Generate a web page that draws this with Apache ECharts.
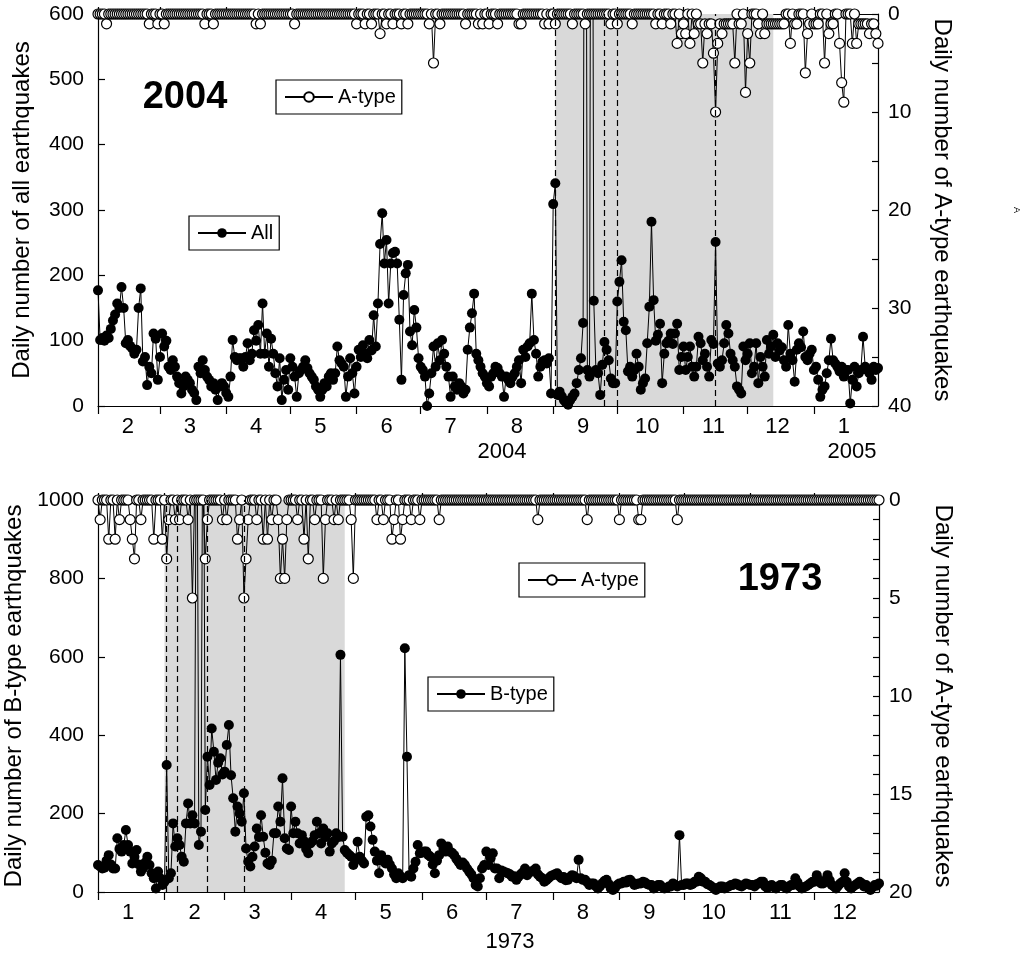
<!DOCTYPE html>
<html>
<head>
<meta charset="utf-8">
<script src="https://cdn.jsdelivr.net/npm/echarts@6/dist/echarts.min.js"></script>
<style>
html,body{margin:0;padding:0;background:#fff;}
#chart{width:1024px;height:961px;}
</style>
</head>
<body>
<div id="chart"></div>
<script>
// ---------- DATA ----------
// Top panel: daily counts starting 2004-02-01
const topStart = '2004-02-01';
const topAll = [
177,101,104,100,108,104,118,131,140,157,
150,182,150,96,101,92,88,80,86,150,
180,68,75,32,60,50,111,103,40,75,
111,91,100,60,55,70,60,45,35,19,
30,45,40,35,25,20,9,60,50,70,
55,45,40,30,35,25,9,30,35,30,
20,14,45,101,75,70,73,73,60,75,
96,70,80,116,100,124,80,157,80,111,
60,103,80,50,30,73,9,40,55,25,
73,60,45,14,50,55,60,70,58,50,
45,40,30,25,14,25,35,30,45,50,
40,50,91,70,65,60,14,45,73,50,
19,60,86,75,93,80,73,101,85,139,
91,157,248,295,218,254,157,218,234,236,
218,132,40,170,203,216,114,93,147,120,
73,60,55,45,0,19,50,91,60,96,
70,101,80,60,45,14,45,30,25,35,
30,19,25,86,120,142,172,80,70,60,
50,45,35,30,45,50,60,58,50,45,
14,45,40,35,45,50,60,70,35,86,
75,91,96,172,101,80,45,60,68,70,
65,73,19,309,341,17,22,15,9,5,
2,9,14,19,35,55,73,127,1500,55,
45,1500,161,55,50,17,63,98,86,70,
42,35,35,160,190,223,129,116,53,60,
45,55,80,60,25,35,42,96,152,282,
162,100,109,126,35,80,96,100,111,95,
111,126,55,75,91,55,75,91,60,45,
60,106,96,70,80,60,45,101,95,251,
65,60,70,96,124,111,80,70,60,30,
25,19,91,70,80,96,50,60,96,35,
75,60,45,101,80,91,109,75,96,85,
90,70,60,124,80,70,37,86,96,90,
114,75,70,80,86,55,60,40,14,25,
30,50,70,103,70,65,60,53,60,45,
55,55,4,40,60,30,50,55,106,60,
55,50,40,60,55,58
];
const topAType = [
0,0,0,0,1,0,0,0,0,0,
0,0,0,0,0,0,0,0,0,0,
0,0,0,0,1,0,0,0,1,0,
0,1,0,0,0,0,0,0,0,0,
0,0,0,0,0,0,0,0,0,0,
1,0,0,0,1,0,0,0,0,0,
0,0,0,0,0,0,0,0,0,0,
0,0,0,0,1,0,1,0,0,0,
0,0,0,0,0,0,0,0,0,0,
0,0,1,0,0,0,0,0,0,0,
0,0,0,0,0,0,0,0,0,0,
0,0,0,0,0,0,0,0,0,0,
0,1,0,0,0,1,0,0,1,0,
0,0,2,0,0,1,0,0,1,0,
0,0,1,0,0,1,0,0,0,0,
0,0,0,0,0,1,0,5,0,0,
1,0,0,0,0,0,0,0,0,0,
0,0,1,0,0,0,0,0,1,0,
1,0,0,1,0,0,0,1,0,0,
0,0,0,0,0,0,0,1,1,0,
0,0,0,0,0,0,0,0,0,1,
0,1,0,0,1,0,0,0,0,0,
0,0,1,0,0,0,0,0,1,0,
0,0,0,0,0,0,0,0,0,0,
1,0,0,1,0,0,0,0,0,0,
1,0,0,0,0,0,0,0,0,0,
0,1,0,0,1,0,0,0,1,0,
0,3,0,2,1,2,0,3,0,2,
0,1,1,5,1,2,1,1,4,10,
3,1,2,1,1,1,1,1,5,0,
1,1,0,8,2,5,0,0,0,1,
2,0,2,1,1,1,1,1,1,1,
1,1,0,0,3,0,1,1,0,0,
0,6,2,1,0,1,1,1,0,0,
5,0,2,1,1,0,0,3,7,9,
0,0,0,3,0,3,1,1,1,1,
1,2,1,1,2,3
];
const topShade = ['2004-09-02', '2004-12-13'];
const topDashed = ['2004-09-02', '2004-09-25', '2004-10-01', '2004-11-16'];

// Bottom panel: daily counts starting 1973-01-01
const botStart = '1973-01-01';
const botBType = [
69,65,60,62,80,94,70,60,60,137,
110,103,120,158,120,103,73,90,107,70,
52,60,75,90,69,48,35,9,52,35,
18,26,324,35,48,175,116,137,120,90,
77,175,226,175,196,175,1500,120,154,1500,
209,345,273,417,358,286,330,341,300,307,
375,426,298,239,154,218,200,179,252,111,
77,65,90,116,162,140,196,141,100,73,
69,80,150,150,218,179,290,137,111,107,
218,150,179,150,124,145,130,110,99,124,
130,145,179,150,124,162,140,150,103,124,
130,150,140,605,141,107,100,95,90,69,
85,128,90,80,73,192,196,167,133,103,
80,48,94,80,73,82,70,60,45,35,
48,40,35,622,345,43,39,60,77,120,
99,100,103,103,94,90,70,48,80,94,
124,110,103,116,103,100,94,85,77,69,
75,69,60,52,45,35,18,14,35,60,
69,103,69,86,99,60,60,35,55,52,
50,48,45,39,40,31,39,45,50,60,
43,50,52,55,60,45,39,35,26,30,
35,40,43,45,48,40,35,38,30,31,
38,43,40,35,82,35,31,31,25,18,
22,22,15,9,15,22,28,31,20,9,
5,10,18,22,22,26,24,30,31,25,
18,20,22,22,26,24,20,18,18,9,
12,18,18,12,9,10,14,14,22,18,
14,145,18,18,22,22,18,20,26,26,
39,35,26,26,20,18,14,10,5,10,
14,14,9,12,14,18,18,22,20,16,
14,18,22,20,18,18,14,20,22,26,
26,14,10,16,18,12,9,14,18,18,
12,9,14,18,18,35,25,14,9,12,
14,18,22,26,26,43,30,22,22,30,
43,30,18,14,9,16,22,26,48,26,
14,9,14,18,22,26,22,14,18,10,
5,12,18,16,22
];
const botAType = [
0,1,0,0,0,2,0,0,2,0,
1,0,0,0,0,1,2,3,0,0,
1,0,0,0,0,0,2,0,0,0,
2,0,3,1,0,0,1,0,1,0,
0,0,1,0,5,0,0,0,0,0,
3,1,0,0,0,0,0,0,1,0,
1,0,0,0,0,2,1,0,5,3,
1,0,0,0,1,0,0,2,0,2,
0,1,0,0,1,4,2,4,1,0,
0,0,0,1,0,0,2,0,3,0,
0,1,0,0,0,4,1,0,0,0,
1,0,1,0,0,0,0,0,1,4,
0,0,0,0,0,0,0,0,0,0,
1,0,0,1,0,0,0,2,1,0,
0,2,1,0,0,0,1,0,0,0,
1,0,0,0,0,0,0,0,0,1,
0,0,0,0,0,0,0,0,0,0,
0,0,0,0,0,0,0,0,0,0,
0,0,0,0,0,0,0,0,0,0,
0,0,0,0,0,0,0,0,0,0,
0,0,0,0,0,1,0,0,0,0,
0,0,0,0,0,0,0,0,0,0,
0,0,0,0,0,0,0,0,1,0,
0,0,0,0,0,0,0,0,0,0,
0,0,0,1,0,0,0,0,0,0,
0,0,1,1,0,0,0,0,0,0,
0,0,0,0,0,0,0,0,0,0,
1,0,0,0,0,0,0,0,0,0,
0,0,0,0,0,0,0,0,0,0,
0,0,0,0,0,0,0,0,0,0,
0,0,0,0,0,0,0,0,0,0,
0,0,0,0,0,0,0,0,0,0,
0,0,0,0,0,0,0,0,0,0,
0,0,0,0,0,0,0,0,0,0,
0,0,0,0,0,0,0,0,0,0,
0,0,0,0,0,0,0,0,0,0,
0,0,0,0,0
];
const botShade = ['1973-02-01', '1973-04-26'];
const botDashed = ['1973-02-02', '1973-02-07', '1973-02-21', '1973-03-10'];

const topYLeftTicks = [0, 600, 100];
const topYRightTicks = [0, 40, 5];
const botYLeftTicks = [0, 1000, 200];
const botYRightTicks = [0, 20, 1];

// ---------- BUILD ----------
function makeDays(start, n) {
  const out = [];
  const d0 = new Date(start + 'T00:00:00Z');
  for (let i = 0; i < n; i++) {
    const d = new Date(d0.getTime() + i * 86400000);
    out.push(d.toISOString().slice(0, 10));
  }
  return out;
}
const topDays = makeDays(topStart, topAll.length);
const botDays = makeDays(botStart, botBType.length);

const FONT = '"Liberation Sans", Arial, Helvetica, sans-serif';
const black = '#000';

function xAxisPair(grid, days) {
  const tickFn = (i, v) => v.slice(8) === '01';
  const labFn = (i, v) => v.slice(8) === '15';
  return [
    {
      gridIndex: grid, type: 'category', data: days, boundaryGap: false, position: 'bottom',
      axisLine: { show: true, onZero: false, lineStyle: { color: black, width: 1.2 } },
      axisTick: { show: true, interval: tickFn, inside: false, length: 8, lineStyle: { color: black, width: 1.2 } },
      axisLabel: { show: true, interval: labFn, formatter: v => String(parseInt(v.slice(5, 7), 10)),
        color: black, fontSize: 22, fontFamily: FONT, margin: 10 },
      splitLine: { show: false }
    },
    {
      gridIndex: grid, type: 'category', data: days, boundaryGap: false, position: 'top',
      axisLine: { show: true, onZero: false, lineStyle: { color: black, width: 1.2 } },
      axisTick: { show: true, interval: tickFn, inside: false, length: 7, lineStyle: { color: black, width: 1.2 } },
      axisLabel: { show: false },
      splitLine: { show: false }
    }
  ];
}

function yAxisLeft(grid, t, name) {
  return {
    gridIndex: grid, type: 'value', position: 'left', min: t[0], max: t[1], interval: t[2],
    axisLine: { show: true, onZero: false, lineStyle: { color: black, width: 1.2 } },
    axisTick: { show: true, inside: true, length: 7, lineStyle: { color: black, width: 1.2 } },
    axisLabel: { color: black, fontSize: 21, fontFamily: FONT, margin: 14, formatter: v => String(v) },
    splitLine: { show: false },
    name: name, nameLocation: 'middle', nameRotate: 90, nameGap: 64,
    nameTextStyle: { color: black, fontSize: 24, fontFamily: FONT }
  };
}
function yAxisRight(grid, t, labStep, name) {
  return {
    gridIndex: grid, type: 'value', position: 'right', min: t[0], max: t[1], interval: t[2], inverse: true,
    axisLine: { show: true, onZero: false, lineStyle: { color: black, width: 1.2 } },
    axisTick: { show: true, inside: true, length: 6, lineStyle: { color: black, width: 1.2 } },
    axisLabel: { color: black, fontSize: 21, fontFamily: FONT, margin: 10,
      formatter: v => (v % labStep === 0 ? String(v) : '') },
    splitLine: { show: false },
    name: name, nameLocation: 'middle', nameRotate: -90, nameGap: 52,
    nameTextStyle: { color: black, fontSize: 24, fontFamily: FONT }
  };
}

function shadeSeries(xi, yi, data, shade) {
  return {
    type: 'line', xAxisIndex: xi, yAxisIndex: yi, data: data, showSymbol: false, silent: true,
    lineStyle: { opacity: 0 }, z: 1, animation: false,
    markArea: { silent: true, itemStyle: { color: '#d9d9d9', opacity: 1 },
      data: [[{ xAxis: shade[0] }, { xAxis: shade[1] }]] }
  };
}
function dashSeries(xi, yi, data, lines) {
  return {
    type: 'line', xAxisIndex: xi, yAxisIndex: yi, data: data, showSymbol: false, silent: true,
    lineStyle: { opacity: 0 }, z: 2, animation: false,
    markLine: { silent: true, symbol: ['none', 'none'], label: { show: false },
      lineStyle: { color: black, width: 1.2, type: [6, 4] },
      data: lines.map(d => ({ xAxis: d })) }
  };
}
function filledSeries(name, xi, yi, data) {
  return {
    name: name, type: 'line', xAxisIndex: xi, yAxisIndex: yi, data: data,
    symbol: 'circle', symbolSize: 10, showAllSymbol: true, z: 3,
    itemStyle: { color: black, borderColor: black, borderWidth: 0 },
    lineStyle: { color: black, width: 1 }, clip: true
  };
}
function openSeries(name, xi, yi, data) {
  return {
    name: name, type: 'line', xAxisIndex: xi, yAxisIndex: yi, data: data,
    symbol: 'circle', symbolSize: 10, showAllSymbol: true, z: 4,
    itemStyle: { color: '#fff', borderColor: black, borderWidth: 1.2 },
    lineStyle: { color: black, width: 1 }, clip: true
  };
}
function legendBox(name, left, top) {
  return {
    data: [name], left: left, top: top, orient: 'horizontal', selectedMode: false,
    backgroundColor: '#fff', borderColor: black, borderWidth: 1.2, borderRadius: 0,
    padding: [7, 6, 7, 8], itemWidth: 48, itemHeight: 12, itemGap: 0,
    textStyle: { color: black, fontSize: 20, fontFamily: FONT }
  };
}

const option = {
  animation: false,
  backgroundColor: '#fff',
  textStyle: { fontFamily: FONT },
  grid: [
    { left: 98, top: 14, width: 780, height: 392, containLabel: false, outerBoundsMode: 'none' },
    { left: 98, top: 500, width: 781, height: 392, containLabel: false, outerBoundsMode: 'none' }
  ],
  xAxis: [].concat(xAxisPair(0, topDays), xAxisPair(1, botDays)),
  yAxis: [
    yAxisLeft(0, topYLeftTicks, 'Daily number of all earthquakes'),
    yAxisRight(0, topYRightTicks, 10, 'Daily number of A-type earthquakes'),
    yAxisLeft(1, botYLeftTicks, 'Daily number of B-type earthquakes'),
    yAxisRight(1, botYRightTicks, 5, 'Daily number of A-type earthquakes')
  ],
  legend: [
    legendBox('A-type', 276, 80),
    legendBox('All', 189, 216),
    legendBox('A-type', 519, 563),
    legendBox('B-type', 428, 677)
  ],
  series: [
    shadeSeries(0, 0, topAll, topShade),
    dashSeries(0, 0, topAll, topDashed),
    filledSeries('All', 0, 0, topAll),
    openSeries('A-type', 0, 1, topAType),
    shadeSeries(2, 2, botBType, botShade),
    dashSeries(2, 2, botBType, botDashed),
    filledSeries('B-type', 2, 2, botBType),
    openSeries('A-type', 2, 3, botAType)
  ],
  graphic: [
    { type: 'text', x: 185, y: 98, style: { text: '2004', fontSize: 38, fontWeight: 'bold', fontFamily: FONT, fill: black, align: 'center', verticalAlign: 'middle' } },
    { type: 'text', x: 780, y: 580, style: { text: '1973', fontSize: 38, fontWeight: 'bold', fontFamily: FONT, fill: black, align: 'center', verticalAlign: 'middle' } },
    { type: 'text', x: 502, y: 452, style: { text: '2004', fontSize: 22, fontFamily: FONT, fill: black, align: 'center', verticalAlign: 'middle' } },
    { type: 'text', x: 852, y: 452, style: { text: '2005', fontSize: 22, fontFamily: FONT, fill: black, align: 'center', verticalAlign: 'middle' } },
    { type: 'text', x: 510, y: 942, style: { text: '1973', fontSize: 22, fontFamily: FONT, fill: black, align: 'center', verticalAlign: 'middle' } },
    { type: 'text', x: 1016, y: 210, rotation: -Math.PI / 2, style: { text: 'A', fontSize: 9, fontFamily: FONT, fill: black, align: 'center', verticalAlign: 'middle' } }
  ]
};

const chart = echarts.init(document.getElementById('chart'), null, { renderer: 'canvas' });
chart.setOption(option);
</script>
</body>
</html>
